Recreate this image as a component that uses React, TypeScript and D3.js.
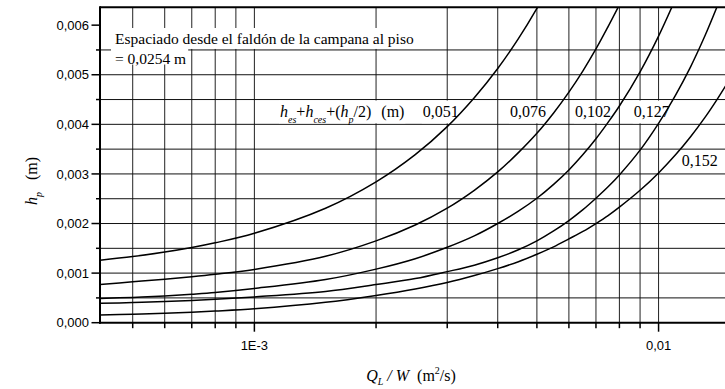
import React, { useRef, useEffect } from "react";
import * as d3 from "d3";

// Q_L/W (m2/s) sample points, shared by all curves
const qL = [
  4.15e-4, 5e-4, 6e-4, 7e-4, 8e-4, 1e-3, 1.5e-3, 2e-3, 2.5e-3, 3e-3, 3.5e-3, 4e-3, 4.5e-3,
  5e-3, 5.5e-3, 6e-3, 6.5e-3, 7e-3, 7.5e-3, 8e-3, 9e-3, 1e-2, 1.1e-2, 1.2e-2, 1.3e-2, 1.4e-2, 1.5e-2,
];
// h_p in mm, one array per hes+hces+(hp/2) value
const hp051 = [1.26, 1.334, 1.424, 1.516, 1.611, 1.804, 2.309, 2.841, 3.389, 3.954, 4.537, 5.126, 5.727, 6.338, 6.96];
const hp076 = [0.77, 0.825, 0.875, 0.925, 0.975, 1.075, 1.34, 1.65, 1.97, 2.31, 2.67, 3.04, 3.43, 3.82, 4.23, 4.65, 5.08, 5.52, 5.97, 6.41];
const hp102 = [0.49, 0.51, 0.54, 0.575, 0.61, 0.69, 0.87, 1.08, 1.29, 1.52, 1.75, 2.0, 2.25, 2.51, 2.79, 3.08, 3.39, 3.71, 4.04, 4.37, 5.06, 5.78, 6.52];
const hp127 = [0.39, 0.405, 0.425, 0.447, 0.472, 0.52, 0.63, 0.77, 0.89, 1.03, 1.16, 1.31, 1.47, 1.65, 1.85, 2.06, 2.28, 2.51, 2.74, 2.98, 3.48, 4.02, 4.58, 5.16, 5.77, 6.4];
const hp152 = [0.155, 0.172, 0.192, 0.213, 0.235, 0.28, 0.41, 0.55, 0.68, 0.81, 0.95, 1.09, 1.23, 1.38, 1.53, 1.69, 1.84, 2.0, 2.16, 2.33, 2.67, 3.02, 3.38, 3.75, 4.13, 4.52, 4.91];
const series = [hp051, hp076, hp102, hp127, hp152];

const curvaLabels = ["0,051", "0,076", "0,102", "0,127", "0,152"];
// label anchors in data units [Q_L/W, h_p]
const labelPos: [number, number][] = [
  [2.61e-3, 0.00415], [4.29e-3, 0.00415], [6.21e-3, 0.00415], [8.68e-3, 0.00415], [1.141e-2, 0.00315],
];

const yTickValues = [0, 0.001, 0.002, 0.003, 0.004, 0.005, 0.006];
const yTickLabels = ["0,000", "0,001", "0,002", "0,003", "0,004", "0,005", "0,006"];
const xTickValues = [1e-3, 1e-2];
const xTickLabels = ["1E-3", "0,01"];
const xDomain = [4.15e-4, 1.46e-2];
const yDomain = [0, 0.00636];

const serif = "'Liberation Serif', 'Times New Roman', serif";
const sans = "'Liberation Sans', Arial, sans-serif";

const App = () => {
  const svgRef = useRef<SVGSVGElement>(null);

  useEffect(() => {
    const svg = d3.select(svgRef.current);
    svg.selectAll("*").remove();

    const left = 100, right = 725, top = 7.3, bottom = 322.7;
    const x = d3.scaleLog().domain(xDomain).range([left, right]);
    const y = d3.scaleLinear().domain(yDomain).range([bottom, top]);

    svg.append("clipPath").attr("id", "plotclip")
      .append("rect").attr("x", left).attr("y", top).attr("width", right - left).attr("height", bottom - top);

    // grid
    const xGrid = x.ticks().filter((d) => d > xDomain[0] && d < xDomain[1]);
    const yGrid = d3.range(1, 12).map((i) => i * 0.0005);
    svg.append("g").selectAll("line").data(xGrid).join("line")
      .attr("x1", (d) => x(d)).attr("x2", (d) => x(d))
      .attr("y1", top).attr("y2", bottom)
      .attr("stroke", "#222").attr("stroke-width", 1);
    svg.append("g").selectAll("line").data(yGrid).join("line")
      .attr("x1", left).attr("x2", right)
      .attr("y1", (d) => y(d)).attr("y2", (d) => y(d))
      .attr("stroke", "#111").attr("stroke-width", 1);

    // note box
    const bgLayer = svg.append("g");
    const note1 = svg.append("text").attr("x", 115).attr("y", 43.5)
      .attr("font-family", serif).attr("font-size", 15.5)
      .text("Espaciado desde el faldón de la campana al piso");
    const note2 = svg.append("text").attr("x", 115).attr("y", 63.5)
      .attr("font-family", serif).attr("font-size", 15.5)
      .text("= 0,0254 m");
    const b1 = (note1.node() as SVGTextElement).getBBox();
    const b2 = (note2.node() as SVGTextElement).getBBox();
    bgLayer.append("rect").attr("x", left + 1).attr("y", 28)
      .attr("width", b1.x + b1.width + 2 - left - 1).attr("height", y(0.0055) - 1 - 28).attr("fill", "#fff");
    bgLayer.append("rect").attr("x", 111).attr("y", y(0.0055) - 1.5)
      .attr("width", b2.x + b2.width + 2 - 111).attr("height", 66 - y(0.0055)).attr("fill", "#fff");

    // parameter label
    const par = svg.append("text").attr("x", 280).attr("y", y(0.00415))
      .attr("font-family", serif).attr("font-size", 16);
    const sub = (t: string) => par.append("tspan").attr("font-size", 10).attr("font-style", "italic").attr("dy", 6).text(t);
    par.append("tspan").attr("font-style", "italic").text("h");
    sub("es");
    par.append("tspan").attr("dy", -6).text("+");
    par.append("tspan").attr("font-style", "italic").text("h");
    sub("ces");
    par.append("tspan").attr("dy", -6).text("+(");
    par.append("tspan").attr("font-style", "italic").text("h");
    sub("p");
    par.append("tspan").attr("dy", -6).text("/2)");
    par.append("tspan").attr("dx", 10).text("(m)");
    const bp = (par.node() as SVGTextElement).getBBox();
    bgLayer.append("rect").attr("x", bp.x - 1).attr("y", y(0.0045) + 1)
      .attr("width", bp.width + 2).attr("height", y(0.004) - y(0.0045) - 2).attr("fill", "#fff");

    // curve labels
    labelPos.forEach((p, i) => {
      const t = svg.append("text").attr("x", x(p[0])).attr("y", y(p[1]))
        .attr("font-family", serif).attr("font-size", 16).text(curvaLabels[i]);
      const bb = (t.node() as SVGTextElement).getBBox();
      const y0 = i < 4 ? y(0.0045) + 1 : y(0.0035) + 1;
      const y1 = i < 4 ? y(0.004) - 1 : y(0.003) - 1;
      bgLayer.append("rect").attr("x", bb.x - 1).attr("y", y0)
        .attr("width", bb.width + 2).attr("height", y1 - y0).attr("fill", "#fff");
    });

    // curves
    const curvas = series.map((hs) => hs.map((h, i) => [qL[i], h * 1e-3] as [number, number]));
    const lineGen = d3.line<[number, number]>()
      .x((d) => x(d[0])).y((d) => y(d[1]))
      .curve(d3.curveCatmullRom.alpha(0.5));
    svg.append("g").attr("clip-path", "url(#plotclip)")
      .selectAll("path").data(curvas).join("path")
      .attr("d", (d) => lineGen(d))
      .attr("fill", "none").attr("stroke", "#000").attr("stroke-width", 1.5);

    // axes frame
    svg.append("line").attr("x1", left).attr("x2", right).attr("y1", top).attr("y2", top)
      .attr("stroke", "#000").attr("stroke-width", 2);
    svg.append("line").attr("x1", left).attr("x2", left).attr("y1", top - 1).attr("y2", bottom + 1)
      .attr("stroke", "#000").attr("stroke-width", 2);
    svg.append("line").attr("x1", left - 1).attr("x2", right).attr("y1", bottom).attr("y2", bottom)
      .attr("stroke", "#000").attr("stroke-width", 2);

    // y ticks
    const yMinor = d3.range(0, 13).map((i) => i * 0.0005);
    svg.append("g").selectAll("line").data(yMinor).join("line")
      .attr("x1", (d, i) => (i % 2 === 0 ? left - 8.5 : left - 4)).attr("x2", left)
      .attr("y1", (d) => y(d)).attr("y2", (d) => y(d))
      .attr("stroke", "#000").attr("stroke-width", 1.5);
    svg.append("g").selectAll("text").data(yTickValues).join("text")
      .attr("x", left - 11).attr("y", (d) => y(d)).attr("dy", "0.36em")
      .attr("text-anchor", "end").attr("font-family", sans).attr("font-size", 13)
      .text((d, i) => yTickLabels[i]);

    // x ticks
    svg.append("g").selectAll("line").data(xGrid).join("line")
      .attr("x1", (d) => x(d)).attr("x2", (d) => x(d))
      .attr("y1", bottom).attr("y2", (d) => (xTickValues.includes(d) ? bottom + 9 : bottom + 5.5))
      .attr("stroke", "#000").attr("stroke-width", 1.5);
    svg.append("g").selectAll("text").data(xTickValues).join("text")
      .attr("x", (d) => x(d)).attr("y", 350)
      .attr("text-anchor", "middle").attr("font-family", sans).attr("font-size", 13)
      .text((d, i) => xTickLabels[i]);

    // axis titles
    const xt = svg.append("text").attr("x", 411).attr("y", 381)
      .attr("text-anchor", "middle").attr("font-family", serif).attr("font-size", 16);
    xt.append("tspan").attr("font-style", "italic").text("Q");
    xt.append("tspan").attr("font-style", "italic").attr("font-size", 10).attr("dy", 4).text("L");
    xt.append("tspan").attr("font-style", "italic").attr("dy", -4).text(" / W");
    xt.append("tspan").attr("dx", 8).text("(m");
    xt.append("tspan").attr("font-size", 10).attr("dy", -7).text("2");
    xt.append("tspan").attr("dy", 7).text("/s)");

    const yt = svg.append("text").attr("transform", "translate(37,181) rotate(-90)")
      .attr("text-anchor", "middle").attr("font-family", serif).attr("font-size", 16);
    yt.append("tspan").attr("font-style", "italic").text("h");
    yt.append("tspan").attr("font-style", "italic").attr("font-size", 10).attr("dy", 5).text("p");
    yt.append("tspan").attr("dy", -5).attr("dx", 12).text("(m)");
  }, []);

  return (
    <svg ref={svgRef} width={725} height={389}
      style={{ position: "absolute", left: 0, top: 0, background: "#fff" }} />
  );
};

export default App;
